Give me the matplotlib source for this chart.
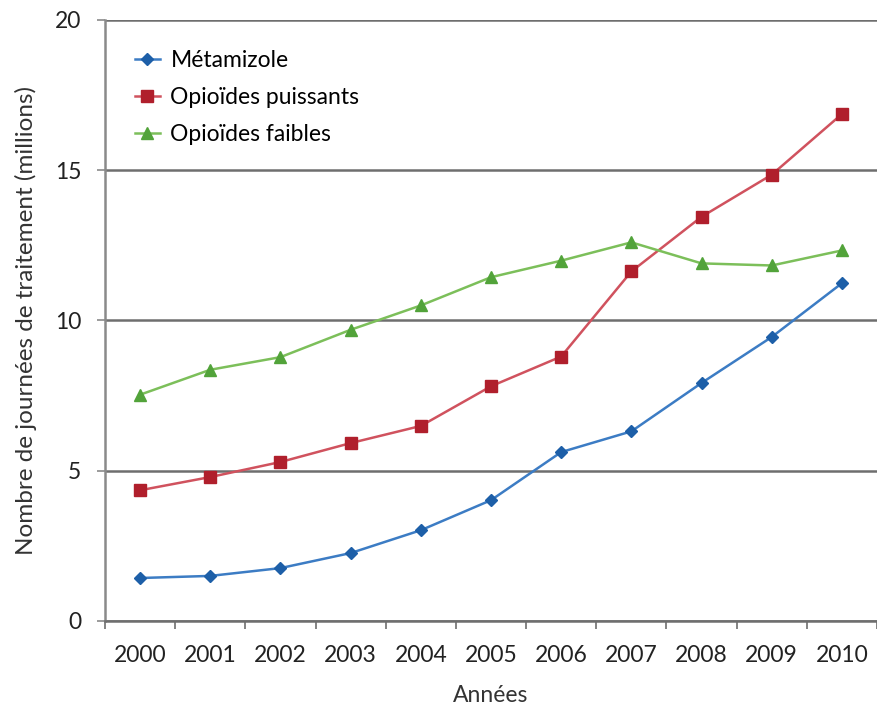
import numpy as np
import matplotlib
matplotlib.use('Agg')
import matplotlib.pyplot as plt

plt.rcParams['font.family'] = ['Lato', 'DejaVu Sans']

annees = ['2000', '2001', '2002', '2003', '2004', '2005', '2006', '2007', '2008', '2009', '2010']
metamizole = [1.43, 1.50, 1.76, 2.26, 3.02, 4.02, 5.62, 6.31, 7.92, 9.45, 11.24]
opioides_puissants = [4.35, 4.79, 5.29, 5.92, 6.49, 7.81, 8.80, 11.63, 13.45, 14.85, 16.87]
opioides_faibles = [7.53, 8.36, 8.78, 9.69, 10.50, 11.44, 11.99, 12.60, 11.90, 11.83, 12.33]

x = np.arange(len(annees))

fig = plt.figure(figsize=(8.77, 7.08), dpi=100)
ax = fig.add_axes([0.1197, 0.1229, 0.8803, 0.8489])

ax.plot(x, metamizole, color='#3c7cc4', lw=1.8, marker='D', ms=6.5,
        mfc='#1d5fa8', mec='#1d5fa8', label='Métamizole', zorder=4)
ax.plot(x, opioides_puissants, color='#d0525e', lw=1.8, marker='s', ms=8,
        mfc='#b01f2c', mec='#b01f2c', label='Opioïdes puissants', zorder=4)
ax.plot(x, opioides_faibles, color='#7cbf5a', lw=1.8, marker='^', ms=8.5,
        mfc='#52a33a', mec='#52a33a', label='Opioïdes faibles', zorder=4)

ax.set_xlim(-0.5, len(annees) - 0.5)
ax.set_ylim(0, 20)
ax.set_yticks([0, 5, 10, 15, 20])
ax.set_xticks(x)
ax.set_xticklabels(annees)
ax.set_xticks(np.arange(-0.5, len(annees) + 0.5, 1), minor=True)

ax.grid(axis='y', color='#6e6e6e', lw=1.8, zorder=1)
for side in ['top', 'right']:
    ax.spines[side].set_visible(False)
ax.spines['left'].set_color('#8a8a8a')
ax.spines['left'].set_linewidth(1.8)
ax.spines['bottom'].set_color('#6e6e6e')
ax.spines['bottom'].set_linewidth(1.8)

ax.tick_params(axis='x', which='major', length=0, labelsize=16.5, pad=17, colors='#222222')
ax.tick_params(axis='x', which='minor', length=6, width=1.2, color='#6e6e6e')
ax.tick_params(axis='y', length=6, width=1.2, color='#8a8a8a', labelsize=16.5,
               pad=11, labelcolor='#222222')

ax.set_xlabel('Années', fontsize=16.5, labelpad=14, color='#333333')
ax.set_ylabel('Nombre de journées de traitement (millions)', fontsize=17.5,
              labelpad=13, color='#333333')

ax.legend(loc='upper left', bbox_to_anchor=(0.012, 0.985), frameon=False,
          fontsize=16.5, handlelength=1.1, handletextpad=0.45, labelspacing=0.7)

fig.savefig('out.png', dpi=100)
